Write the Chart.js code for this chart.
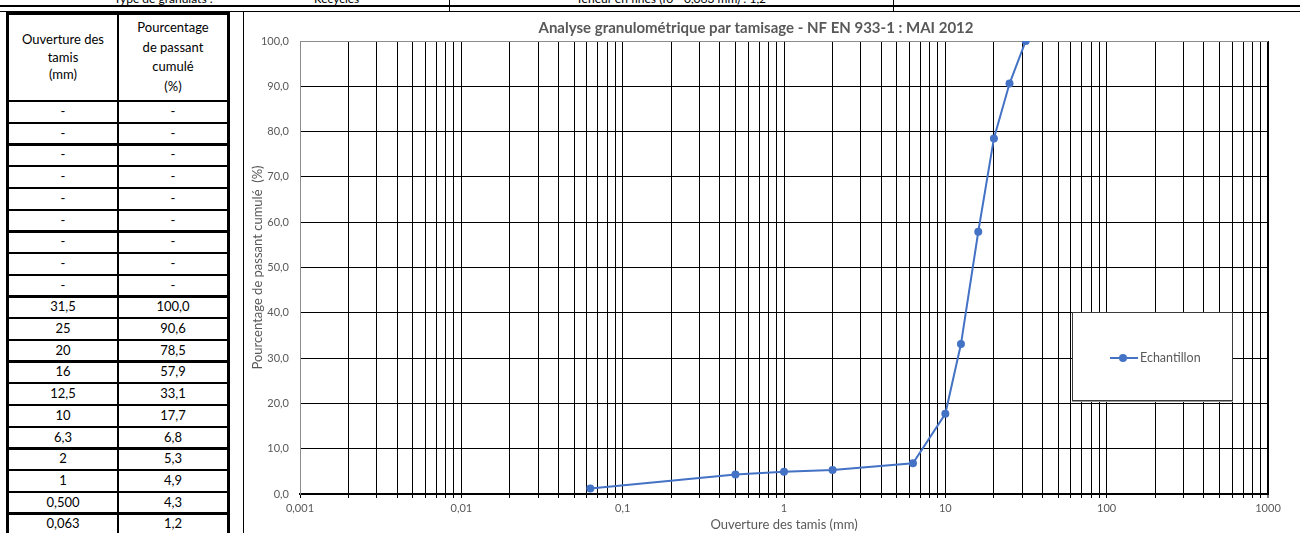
<!DOCTYPE html>
<html><head><meta charset="utf-8">
<script src="https://cdn.jsdelivr.net/npm/chart.js@4.4.1/dist/chart.umd.min.js"></script>
<style>
html,body{margin:0;padding:0;background:#fff;}
#root{position:relative;width:1300px;height:533px;overflow:hidden;font-family:Lato,"Noto Sans",sans-serif;background:#fff;}
.a{position:absolute;}
.ln{position:absolute;background:#000;}
.cell{position:absolute;text-align:center;color:#000;font-size:13px;white-space:nowrap;}
</style></head><body>
<div id="root">
  <!-- top strip (cut off) -->
  <div class="a" style="left:114px;top:-9px;font-size:12px;color:#000;white-space:nowrap">Type de granulats :</div>
  <div class="a" style="left:314px;top:-9px;font-size:12px;color:#000;white-space:nowrap">Recyclés</div>
  <div class="a" style="left:576px;top:-9px;font-size:12px;color:#000;white-space:nowrap">Teneur en fines (f0 - 0,063 mm) : 1,2</div>
  <div class="ln" style="left:0;top:5px;width:1300px;height:2px"></div>
  <div class="ln" style="left:0;top:11px;width:1300px;height:1px"></div>
  <div class="ln" style="left:449px;top:0;width:1px;height:12px"></div>
  <div class="ln" style="left:893px;top:0;width:1px;height:12px"></div>

  <!-- table -->
  <div id="tbl"></div>

  <!-- chart box -->
  <div class="a" style="left:243px;top:11px;width:1100px;height:600px;border-left:1px solid #000;border-top:1px solid #000;"></div>
  <div class="a" style="left:244px;top:12px;width:1040px;height:521px;">
    <canvas id="c" width="1040" height="521"></canvas>
  </div>

  <!-- legend -->
  <div class="a" style="left:1072px;top:312px;width:159px;height:87px;background:#fff;border:1px solid #3a3a3a;box-shadow:0 1px 0 #9a9a9a;">
    <div class="a" style="left:37px;top:44px;width:28px;height:2px;background:#4472C4"></div>
    <div class="a" style="left:46px;top:41px;width:8px;height:8px;border-radius:50%;background:#4472C4"></div>
    <div class="a" id="legtxt" style="left:67px;top:36px;font-size:12.5px;color:#595959;white-space:nowrap;line-height:17px">Echantillon</div>
  </div>
</div>
<script>
// ---------- DATA ----------
const seriesName = 'Echantillon';
const sieveSizes = [31.5, 25, 20, 16, 12.5, 10, 6.3, 2, 1, 0.5, 0.063];
const passing    = [100.0, 90.6, 78.5, 57.9, 33.1, 17.7, 6.8, 5.3, 4.9, 4.3, 1.2];
const sizeLabels = ['31,5', '25', '20', '16', '12,5', '10', '6,3', '2', '1', '0,500', '0,063'];
const blankRows = 9;
const headerCol1 = ['Ouverture des', 'tamis', '(mm)'];
const headerCol2 = ['Pourcentage', 'de passant', 'cumulé', '(%)'];
const xMajorTicks = [0.001, 0.01, 0.1, 1, 10, 100, 1000];
const xTickLabels = ['0,001', '0,01', '0,1', '1', '10', '100', '1000'];
const yTickValues = [0, 10, 20, 30, 40, 50, 60, 70, 80, 90, 100];
const chartTitle = 'Analyse granulométrique par tamisage - NF EN 933-1 : MAI 2012';
const xTitle = 'Ouverture des tamis (mm)';
const yTitle = 'Pourcentage de passant cumulé  (%)';

// ---------- TABLE ----------
(function(){
  const tbl = document.getElementById('tbl');
  const add = (html) => tbl.insertAdjacentHTML('beforeend', html);
  const x0 = 6, xm = 117, x1 = 227, top = 12, hdrBottom = 101, rowH = 21.7;
  const col1 = sizeLabels.slice(); const col2 = passing.map(v => v.toFixed(1).replace('.', ','));
  for (let i = 0; i < blankRows; i++) { col1.unshift('-'); col2.unshift('-'); }
  const nRows = col1.length;
  const bottom = hdrBottom + rowH * nRows;
  add(`<div class="ln" style="left:${x0}px;top:${top}px;width:3px;height:${bottom-top}px"></div>`);
  add(`<div class="ln" style="left:${xm}px;top:${top}px;width:2px;height:${bottom-top}px"></div>`);
  add(`<div class="ln" style="left:${x1}px;top:${top}px;width:3px;height:${bottom-top}px"></div>`);
  add(`<div class="ln" style="left:${x0}px;top:${top}px;width:${x1-x0+3}px;height:3px"></div>`);
  add(`<div class="cell" style="left:${x0+3}px;width:${xm-x0-3}px;top:${57-26}px;line-height:17.5px">${headerCol1.join('<br>')}</div>`);
  add(`<div class="cell" style="left:${xm+2}px;width:${x1-xm-2}px;top:${57-39}px;line-height:19.5px">${headerCol2.join('<br>')}</div>`);
  for (let i = 0; i <= nRows; i++) {
    const y = hdrBottom + rowH * i - 1;
    add(`<div class="ln" style="left:${x0}px;top:${y.toFixed(1)}px;width:${x1-x0+3}px;height:2.4px"></div>`);
  }
  for (let i = 0; i < nRows; i++) {
    const y = hdrBottom + rowH * i;
    add(`<div class="cell" style="left:${x0+3}px;width:${xm-x0-3}px;top:${y.toFixed(1)}px;height:${rowH}px;line-height:${rowH}px">${col1[i]}</div>`);
    add(`<div class="cell" style="left:${xm+2}px;width:${x1-xm-2}px;top:${y.toFixed(1)}px;height:${rowH}px;line-height:${rowH}px">${col2[i]}</div>`);
  }
})();

// ---------- CHART ----------
const gridVals = [];
const gridLabel = [];
for (let d = 0; d < xMajorTicks.length - 1; d++) {
  for (let m = 1; m <= 9; m++) {
    gridVals.push(xMajorTicks[d] * m);
    gridLabel.push(m === 1 ? xTickLabels[d] : '');
  }
}
gridVals.push(xMajorTicks[xMajorTicks.length - 1]);
gridLabel.push(xTickLabels[xTickLabels.length - 1]);

const FONT = 'Lato, "Noto Sans", sans-serif';
Chart.defaults.font.family = FONT;
Chart.defaults.color = '#595959';

new Chart(document.getElementById('c'), {
  type: 'scatter',
  data: {
    datasets: [{
      label: seriesName,
      data: sieveSizes.map((s, i) => ({ x: s, y: passing[i] })),
      showLine: true,
      borderColor: '#4472C4',
      backgroundColor: '#4472C4',
      borderWidth: 2,
      pointRadius: 4,
      pointHoverRadius: 4,
      pointBorderWidth: 0,
      tension: 0
    }]
  },
  options: {
    responsive: false,
    animation: false,
    events: [],
    layout: { padding: { left: 0, right: 16, top: 0, bottom: 0 } },
    plugins: {
      legend: { display: false },
      tooltip: { enabled: false },
      title: {
        display: true, text: chartTitle, color: '#595959',
        font: { size: 15, weight: 'bold', family: FONT },
        padding: { top: 7, bottom: 4 }
      }
    },
    scales: {
      x: {
        type: 'logarithmic', min: 0.001, max: 1000,
        afterBuildTicks: (sc) => { sc.ticks = gridVals.map((v, i) => ({ value: v, major: gridLabel[i] !== '' })); },
        afterFit: (sc) => { sc.height = 39; sc.paddingLeft = 0; sc.paddingRight = 0; },
        ticks: {
          autoSkip: false, maxRotation: 0, minRotation: 0, padding: 4,
          color: '#595959', font: { size: 11 },
          callback: (v, i) => gridLabel[i]
        },
        grid: {
          color: '#000',
          lineWidth: (ctx) => (ctx.index === gridVals.length - 1 ? 2 : 1),
          drawTicks: true, tickLength: 4, tickColor: '#000', tickWidth: 1
        },
        border: { display: true, color: '#000', width: 2 },
        title: { display: true, text: xTitle, color: '#595959', font: { size: 13 }, padding: { top: 0, bottom: 0 } }
      },
      y: {
        min: 0, max: 100,
        afterBuildTicks: (sc) => { sc.ticks = yTickValues.map(v => ({ value: v })); },
        afterFit: (sc) => { sc.width = 56; sc.paddingTop = 0; sc.paddingBottom = 0; },
        ticks: {
          padding: 11, color: '#595959', font: { size: 11 },
          callback: (v) => Number(v).toFixed(1).replace('.', ',')
        },
        grid: {
          color: (ctx) => (ctx.tick && ctx.tick.value === 100 ? '#8c8c8c' : '#000'),
          lineWidth: 1, drawTicks: false
        },
        border: { display: true, color: '#8c8c8c', width: 1 },
        title: { display: true, text: yTitle, color: '#595959', font: { size: 13 }, padding: { top: 6, bottom: 0 } }
      }
    }
  }
});
</script>
</body></html>
